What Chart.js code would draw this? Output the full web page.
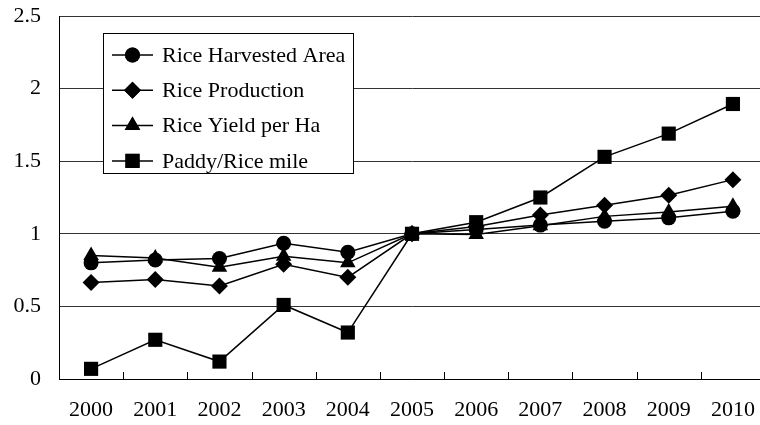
<!DOCTYPE html>
<html>
<head>
<meta charset="utf-8">
<script src="https://cdn.jsdelivr.net/npm/chart.js@4/dist/chart.umd.min.js"></script>
<style>
  html, body { margin: 0; padding: 0; background: #fff; overflow: hidden; }
  #wrap { width: 775px; height: 425px; position: relative; }
  .pre { font-family: "Liberation Serif"; position: absolute; left: -999px; top: -999px; }
</style>
</head>
<body>
<span class="pre">2010 Rice</span>
<div id="wrap"><canvas id="c" width="775" height="425"></canvas></div>
<script>
const years = ['2000','2001','2002','2003','2004','2005','2006','2007','2008','2009','2010'];
const harvestedArea = [0.80, 0.82, 0.83, 0.935, 0.873, 1.00, 1.03, 1.06, 1.087, 1.11, 1.156];
const production    = [0.665, 0.685, 0.64, 0.79, 0.70, 1.00, 1.05, 1.13, 1.196, 1.265, 1.373];
const yieldPerHa    = [0.85, 0.834, 0.77, 0.845, 0.80, 1.00, 0.995, 1.055, 1.12, 1.15, 1.19];
const paddyRiceMile = [0.07, 0.27, 0.12, 0.51, 0.32, 1.00, 1.08, 1.25, 1.53, 1.69, 1.894];
const seriesNames = ['Rice Harvested Area', 'Rice Production', 'Rice Yield per Ha', 'Paddy/Rice mile'];

const FONT = '"Liberation Serif", "Times New Roman", Times, serif';

function ds(label, data, style, r) {
  return {
    label, data,
    borderColor: '#000', backgroundColor: '#000',
    borderWidth: 1.5,
    pointStyle: style, pointRadius: r, pointHoverRadius: r,
    pointBackgroundColor: '#000', pointBorderColor: '#000', pointBorderWidth: 0,
    tension: 0, fill: false
  };
}

const innerTicks = {
  id: 'innerTicks',
  afterDraw(chart) {
    const x = chart.scales.x, ctx = chart.ctx;
    const bottom = chart.chartArea.bottom;
    ctx.save();
    ctx.strokeStyle = '#000';
    ctx.lineWidth = 1;
    for (let i = 1; i < years.length; i++) {
      const px = Math.round((x.getPixelForValue(i - 1) + x.getPixelForValue(i)) / 2) + 0.5;
      ctx.beginPath();
      ctx.moveTo(px, bottom);
      ctx.lineTo(px, bottom - 7);
      ctx.stroke();
    }
    ctx.restore();
  }
};

const boxLegend = {
  id: 'boxLegend',
  afterDraw(chart) {
    const ctx = chart.ctx;
    const bx = 103.5, by = 33.5, bw = 250, bh = 140;
    ctx.save();
    ctx.fillStyle = '#fff';
    ctx.fillRect(bx, by, bw, bh);
    ctx.strokeStyle = '#000';
    ctx.lineWidth = 1;
    ctx.strokeRect(bx, by, bw, bh);
    ctx.font = '22px ' + FONT;
    ctx.textBaseline = 'middle';
    ctx.textAlign = 'left';
    chart.data.datasets.forEach((d, i) => {
      const y = 55 + i * 35.3;
      ctx.strokeStyle = '#000';
      ctx.lineWidth = 1.5;
      ctx.beginPath();
      ctx.moveTo(112, y);
      ctx.lineTo(153, y);
      ctx.stroke();
      ctx.fillStyle = '#000';
      Chart.helpers.drawPoint(ctx, { pointStyle: d.pointStyle, radius: d.pointRadius, borderWidth: 0 }, 132.5, y);
      ctx.fill();
      ctx.fillStyle = '#000';
      ctx.fillText(d.label, 162, y + 1);
    });
    ctx.restore();
  }
};

function build() {
  new Chart(document.getElementById('c'), {
    type: 'line',
    data: {
      labels: years,
      datasets: [
        ds(seriesNames[0], harvestedArea, 'circle', 7.5),
        ds(seriesNames[1], production, 'rectRot', 8.5),
        ds(seriesNames[2], yieldPerHa, 'triangle', 9),
        ds(seriesNames[3], paddyRiceMile, 'rect', 10)
      ]
    },
    options: {
      responsive: false,
      animation: false,
      devicePixelRatio: 1,
      layout: { padding: { top: 16, right: 5, left: 0, bottom: 0 } },
      plugins: { legend: { display: false }, tooltip: { enabled: false } },
      scales: {
        x: {
          offset: true,
          grid: { display: false, offset: true },
          border: { display: true, color: '#000', width: 1 },
          ticks: { color: '#000', font: { family: FONT, size: 22 }, padding: 10, maxRotation: 0, autoSkip: false },
          afterFit(s) { s.height = 46; s.paddingLeft = 0; s.paddingRight = 0; }
        },
        y: {
          min: 0, max: 2.5,
          grid: { color: '#333', lineWidth: 1, drawTicks: false },
          border: { display: true, color: '#000', width: 1 },
          ticks: { stepSize: 0.5, color: '#000', font: { family: FONT, size: 22 }, padding: 18,
                   callback: v => String(v) },
          afterFit(s) { s.width = 59; s.paddingTop = 0; s.paddingBottom = 0; }
        }
      }
    },
    plugins: [innerTicks, boxLegend]
  });
}

if (document.fonts && document.fonts.load) {
  document.fonts.load('22px "Liberation Serif"').then(build, build);
} else {
  build();
}
</script>
</body>
</html>
